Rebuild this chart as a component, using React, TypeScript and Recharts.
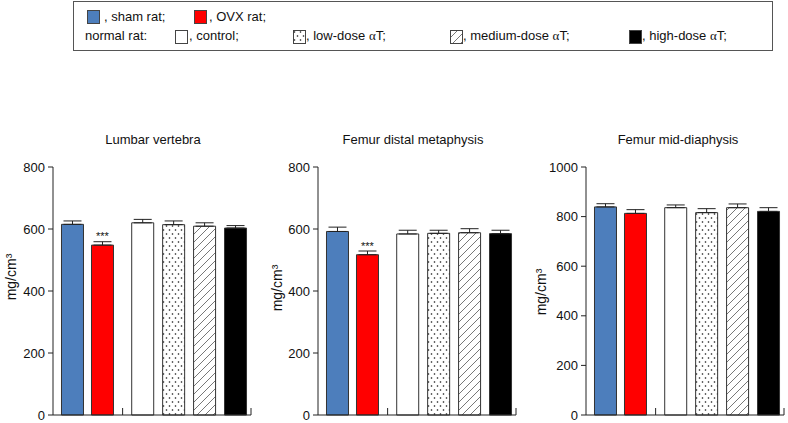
import { BarChart, Bar, XAxis, YAxis, Cell, ErrorBar, LabelList } from 'recharts'

const groups = ['sham', 'OVX', 'control', 'low-dose αT', 'medium-dose αT', 'high-dose αT']

const lumbarMean = [615, 548, 620, 614, 609, 603]
const lumbarSem = [11, 11, 11, 12, 11, 8]
const distalMean = [592, 517, 584, 586, 588, 585]
const distalSem = [14, 12, 12, 10, 13, 11]
const midMean = [839, 813, 836, 816, 836, 821]
const midSem = [13, 15, 11, 16, 15, 15]

const lumbarSig = ['', '***', '', '', '', '']
const distalSig = ['', '***', '', '', '', '']
const midSig = ['', '', '', '', '', '']

const ticks800 = [0, 200, 400, 600, 800]
const ticks1000 = [0, 200, 400, 600, 800, 1000]

// layout: where each group sits on the x axis (gap between rat types)
const slotX = [0.63, 1.6, 2.9, 3.9, 4.9, 5.9]
const xTicks = [2.25, 6.4]
const fills = ['#4D7EBC', '#FF0000', '#FFFFFF', 'url(#dots)', 'url(#hatch)', '#000000']

const FONT = '"Liberation Sans", Arial, Helvetica, sans-serif'

function build(mean: number[], sem: number[], sig: string[]) {
  return groups.map((g, i) => ({ group: g, x: slotX[i], mean: mean[i], err: [0, sem[i]], sig: sig[i] }))
}

interface PanelProps {
  title: string
  left: number
  titleX: number
  labelX: number
  labelY: number
  max: number
  ticks: number[]
  data: ReturnType<typeof build>
}

function Panel({ title, left, titleX, labelX, labelY, max, ticks, data }: PanelProps) {
  return (
    <>
      <div
        style={{
          position: 'absolute', left: titleX - 100, top: 132, width: 200, textAlign: 'center',
          fontSize: 13, lineHeight: '15px',
        }}
      >
        {title}
      </div>
      <div style={{ position: 'absolute', left, top: 140 }}>
        <BarChart width={260} height={283} data={data} margin={{ top: 27, right: 9, left: 0, bottom: 6 }}>
          <XAxis
            dataKey="x"
            type="number"
            domain={[0, 6.4]}
            ticks={xTicks}
            height={2}
            stroke="#222"
            tickSize={-7}
            tickFormatter={() => ''}
          />
          <YAxis
            domain={[0, max]}
            ticks={ticks}
            width={53}
            stroke="#222"
            tickSize={5}
            tickMargin={3}
            interval={0}
            tick={{ fontSize: 13, fill: '#111' }}
            label={() => (
              <text
                x={labelX}
                y={labelY}
                transform={`rotate(-90 ${labelX} ${labelY})`}
                textAnchor="middle"
                dominantBaseline="central"
                fontSize={14}
                fill="#111"
              >
                mg/cm³
              </text>
            )}
          />
          <Bar dataKey="mean" barSize={22} stroke="#333" strokeWidth={1} isAnimationActive={false}>
            {data.map((_, i) => (
              <Cell key={i} fill={fills[i]} />
            ))}
            <ErrorBar dataKey="err" direction="y" width={9} stroke="#222" strokeWidth={1} />
            <LabelList
              dataKey="sig"
              content={(p: any) =>
                p.value ? (
                  <text x={p.x + p.width / 2} y={p.y - 5} textAnchor="middle" fontSize={11} fill="#111">
                    {p.value}
                  </text>
                ) : null
              }
            />
          </Bar>
        </BarChart>
      </div>
    </>
  )
}

function Swatch({ left, top, fill }: { left: number; top: number; fill: string }) {
  return (
    <svg width={13} height={14} style={{ position: 'absolute', left, top }}>
      <rect x={0.5} y={0.5} width={12} height={13} fill={fill} stroke="#444" />
    </svg>
  )
}

function Txt({ left, top, children }: { left: number; top: number; children: React.ReactNode }) {
  return (
    <span style={{ position: 'absolute', left, top, fontSize: 13, lineHeight: '15px', whiteSpace: 'nowrap' }}>
      {children}
    </span>
  )
}

const alpha = <span style={{ fontFamily: '"Liberation Serif", "Times New Roman", serif' }}>α</span>

export default function App() {
  return (
    <div
      style={{
        position: 'absolute', left: 0, top: 0, width: 788, height: 423, background: '#fff',
        fontFamily: FONT, color: '#111', overflow: 'hidden',
      }}
    >
      <svg width={0} height={0} style={{ position: 'absolute' }}>
        <defs>
          <pattern id="dots" width={6} height={8} patternUnits="userSpaceOnUse">
            <rect width={6} height={8} fill="#fff" />
            <circle cx={1.5} cy={2} r={0.8} fill="#111" />
            <circle cx={4.5} cy={6} r={0.8} fill="#111" />
          </pattern>
          <pattern id="hatch" width={8} height={8} patternUnits="userSpaceOnUse">
            <rect width={8} height={8} fill="#fff" />
            <path d="M0,8 L8,0 M-2,2 L2,-2 M6,10 L10,6" stroke="#555" strokeWidth={0.8} />
          </pattern>
        </defs>
      </svg>

      <div
        style={{
          position: 'absolute', left: 73, top: 1, width: 698, height: 48, border: '1px solid #555',
        }}
      />
      <Swatch left={87} top={10} fill={fills[0]} />
      <Txt left={104} top={8.5}>, sham rat;</Txt>
      <Swatch left={194} top={10} fill={fills[1]} />
      <Txt left={209} top={8.5}>, OVX rat;</Txt>
      <Txt left={85} top={28}>normal rat:</Txt>
      <Swatch left={175} top={30} fill={fills[2]} />
      <Txt left={189} top={28}>, control;</Txt>
      <Swatch left={293} top={30} fill={fills[3]} />
      <Txt left={306} top={28}>, low-dose {alpha}T;</Txt>
      <Swatch left={450} top={30} fill={fills[4]} />
      <Txt left={463} top={28}>, medium-dose {alpha}T;</Txt>
      <Swatch left={629} top={30} fill={fills[5]} />
      <Txt left={642} top={28}>, high-dose {alpha}T;</Txt>

      <Panel title="Lumbar vertebra" left={0} titleX={153} labelX={11} labelY={137} max={800} ticks={ticks800}
        data={build(lumbarMean, lumbarSem, lumbarSig)} />
      <Panel title="Femur distal metaphysis" left={265} titleX={413} labelX={12} labelY={148} max={800} ticks={ticks800}
        data={build(distalMean, distalSem, distalSig)} />
      <Panel title="Femur mid-diaphysis" left={533} titleX={678} labelX={8} labelY={152} max={1000} ticks={ticks1000}
        data={build(midMean, midSem, midSig)} />
    </div>
  )
}
